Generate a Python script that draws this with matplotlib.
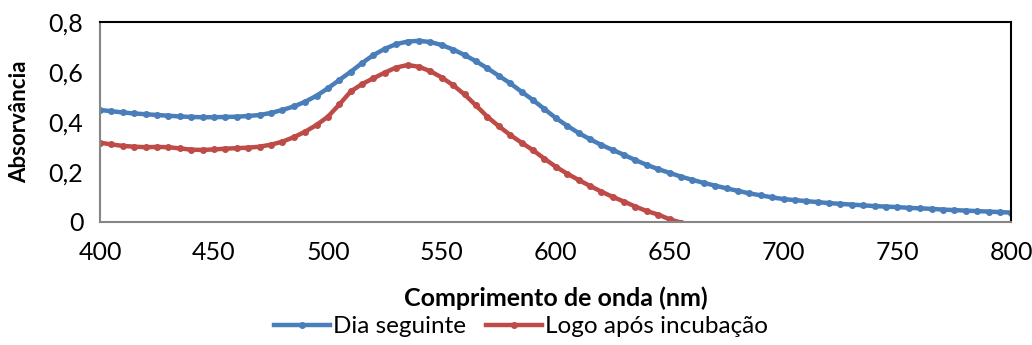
import matplotlib.pyplot as plt
from matplotlib.ticker import FuncFormatter

plt.rcParams.update({
    "font.family": ["Lato", "DejaVu Sans"],
    "font.size": 17,
})

wavelength = list(range(400, 805, 5))

dia_seguinte = [
    .448, .443, .438, .434, .431, .428, .425, .422, .420, .419,
    .419, .420, .421, .424, .428, .436, .448, .462, .481, .505,
    .535, .568, .601, .636, .668, .693, .712, .722, .725, .720,
    .708, .690, .668, .643, .615, .585, .555, .521, .488, .452,
    .416, .385, .356, .331, .308, .288, .268, .247, .228, .211,
    .196, .181, .168, .156, .145, .134, .124, .114, .106, .098,
    .091, .087, .083, .079, .075, .072, .069, .066, .063, .061,
    .059, .056, .054, .052, .049, .047, .045, .043, .041, .039,
    .037,
]

logo_apos = [
    .317, .310, .304, .301, .299, .300, .299, .294, .289, .288,
    .290, .293, .295, .297, .301, .309, .321, .339, .361, .388,
    .421, .470, .522, .552, .575, .598, .618, .628, .621, .603,
    .578, .547, .510, .466, .421, .383, .348, .317, .287, .253,
    .221, .193, .168, .144, .121, .100, .081, .061, .043, .029,
    .010, -.003, -.014, -.025,
]

BLUE = "#4a7ebb"
RED = "#be4b48"

fig = plt.figure(figsize=(10.32, 3.45), dpi=100)
ax = fig.add_axes([0.097, 0.357, 0.883, 0.579])

ax.plot(wavelength, dia_seguinte, color=BLUE, lw=3.2, marker="o", ms=4,
        label="Dia seguinte")
ax.plot(wavelength[:len(logo_apos)], logo_apos, color=RED, lw=3.2, marker="o",
        ms=4, label="Logo após incubação")

ax.set_xlim(400, 800)
ax.set_ylim(0, 0.8)
ax.set_xticks(range(400, 801, 50))
ax.set_yticks([0, 0.2, 0.4, 0.6, 0.8])
ax.yaxis.set_major_formatter(FuncFormatter(
    lambda v, p: "0" if v == 0 else f"{v:.1f}".replace(".", ",")))
ax.tick_params(length=0, labelsize=18)
ax.tick_params(axis="x", pad=14)
ax.tick_params(axis="y", pad=12)

for s in ["left", "bottom"]:
    ax.spines[s].set_color("#868686")
    ax.spines[s].set_linewidth(1.5)
for s in ["top", "right"]:
    ax.spines[s].set_color("black")
    ax.spines[s].set_linewidth(1.5)

ax.set_xlabel("Comprimento de onda (nm)", fontsize=18, weight="bold", va="center")
ax.xaxis.set_label_coords(0.5, -0.38)
ax.set_ylabel("Absorvância", fontsize=16, weight="bold", va="center")
ax.yaxis.set_label_coords(-0.088, 0.5)

ax.legend(loc="center", bbox_to_anchor=(0.462, -0.525), ncol=2, frameon=False,
          fontsize=17.5, handlelength=2.3, handletextpad=0.15, columnspacing=0.8,
          borderaxespad=0, borderpad=0)

fig.savefig("out.png", dpi=100)
